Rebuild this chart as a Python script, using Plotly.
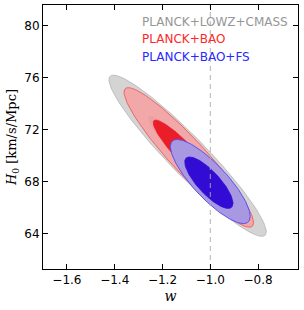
import numpy as np
import plotly.graph_objects as go

# Contour parameters (2D Gaussian-like confidence ellipses)
datasets = ["PLANCK+LOWZ+CMASS", "PLANCK+BAO", "PLANCK+BAO+FS"]
center_w = [-1.095, -1.090, -1.000]
center_h0 = [69.98, 69.85, 68.00]
# half-extent of the 95% and 68% contours along w and H0
outer_w = [0.329, 0.271, 0.167]
outer_h0 = [6.19, 5.36, 3.23]
inner_w = [0.165, 0.149, 0.101]
inner_h0 = [3.05, 2.87, 1.98]
inner_center_w = [-1.095, -1.090, -1.006]
inner_center_h0 = [69.98, 69.85, 67.91]
rho_outer = [-0.944, -0.935, -0.83]
rho_inner = [-0.944, -0.93, -0.80]

fill_outer = ["rgb(212,212,212)", "rgba(255,150,150,0.7)", "rgb(168,152,226)"]
fill_inner = ["rgb(186,186,186)", "rgb(234,30,40)", "rgb(50,12,212)"]
edge_outer = ["rgb(190,190,190)", "rgb(240,100,100)", "rgb(90,80,240)"]
edge_inner = ["rgba(0,0,0,0)", "rgb(234,30,40)", "rgb(50,12,212)"]
label_colors = ["rgb(150,150,150)", "rgb(255,40,40)", "rgb(40,40,255)"]

x_ticks = [-1.6, -1.4, -1.2, -1.0, -0.8]
x_tick_text = ["\u22121.6", "\u22121.4", "\u22121.2", "\u22121.0", "\u22120.8"]
y_ticks = [64, 68, 72, 76, 80]
w_ref = -1.0
x_range = [-1.7, -0.633]
y_range = [61.28, 81.56]


def ellipse(cx, cy, a, b, rho, n=200):
    t = np.linspace(0, 2 * np.pi, n)
    x = cx + a * np.cos(t)
    y = cy + b * (rho * np.cos(t) - np.sqrt(1 - rho ** 2) * np.sin(t))
    return x, y


fig = go.Figure()
for i in range(3):
    x, y = ellipse(center_w[i], center_h0[i], outer_w[i], outer_h0[i], rho_outer[i])
    fig.add_trace(go.Scatter(x=x, y=y, mode="lines", fill="toself",
                             fillcolor=fill_outer[i],
                             line=dict(color=edge_outer[i], width=1),
                             hoverinfo="skip", showlegend=False))
    x, y = ellipse(inner_center_w[i], inner_center_h0[i], inner_w[i], inner_h0[i], rho_inner[i])
    fig.add_trace(go.Scatter(x=x, y=y, mode="lines", fill="toself",
                             fillcolor=fill_inner[i],
                             line=dict(color=edge_inner[i], width=0.8),
                             hoverinfo="skip", showlegend=False))

fig.add_trace(go.Scatter(x=[w_ref, w_ref], y=y_range, mode="lines",
                         line=dict(color="rgba(170,170,170,0.9)", width=1, dash="5px,4px"),
                         hoverinfo="skip", showlegend=False))

for i, name in enumerate(datasets):
    fig.add_annotation(x=0.382, y=0.936 - i * 0.066, xref="paper", yref="paper",
                       text=name, showarrow=False, xanchor="left", yanchor="middle",
                       font=dict(family="DejaVu Sans", size=12, color=label_colors[i]))

axis_common = dict(showline=True, linecolor="black", linewidth=1, mirror="allticks",
                   ticks="inside", ticklen=5, tickwidth=1, tickcolor="black",
                   showgrid=False, zeroline=False,
                   tickfont=dict(family="DejaVu Sans", size=12, color="black"))

fig.update_xaxes(range=x_range, tickvals=x_ticks, ticktext=x_tick_text,
                 title=dict(text="<i>w</i>", font=dict(family="DejaVu Serif", size=14, color="black"),
                            standoff=4),
                 **axis_common)
fig.update_yaxes(range=y_range, tickvals=y_ticks,
                 title=dict(text="<i>H</i><sub>0</sub> [km/s/Mpc]",
                            font=dict(family="DejaVu Serif", size=13, color="black"),
                            standoff=4),
                 **axis_common)

fig.update_layout(width=304, height=310, margin=dict(l=43, r=6, t=5, b=41, autoexpand=False),
                  plot_bgcolor="white", paper_bgcolor="white", hovermode=False)

fig.write_html("out.html", config={"displayModeBar": False, "staticPlot": True},
               post_script="document.body.style.margin='0';document.body.style.overflow='hidden';")
